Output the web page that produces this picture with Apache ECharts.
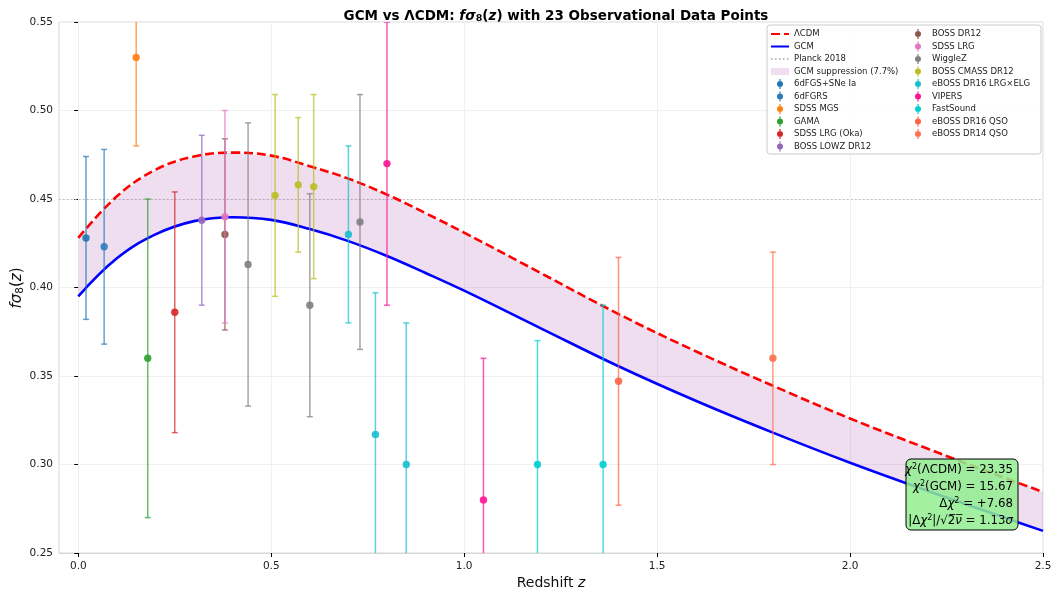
<!DOCTYPE html>
<html><head><meta charset="utf-8">
<script src="https://cdn.jsdelivr.net/npm/echarts@6/dist/echarts.min.js"></script>
<style>html,body{margin:0;padding:0;background:#fff}#c{width:1055px;height:592px}</style>
</head><body><div id="c"></div>
<script>
// ---------- data ----------
const xTicks = [0, 0.5, 1.0, 1.5, 2.0, 2.5];
const yTicks = [0.25, 0.30, 0.35, 0.40, 0.45, 0.50, 0.55];
const curveZ = [0, 0.1, 0.2, 0.3, 0.4, 0.5, 0.6, 0.7, 0.8, 0.9, 1.0, 1.2, 1.4, 1.6, 1.8, 2.0, 2.2, 2.4, 2.5];
const lcdm   = [0.428, 0.4515, 0.4665, 0.474, 0.4762, 0.4745, 0.4685, 0.4615, 0.4525, 0.442, 0.431, 0.408, 0.385, 0.364, 0.3445, 0.326, 0.309, 0.2925, 0.2845];
const gcm    = [0.395, 0.4165, 0.430, 0.4375, 0.4397, 0.4382, 0.433, 0.4262, 0.4178, 0.4082, 0.3982, 0.3768, 0.3555, 0.336, 0.318, 0.301, 0.2852, 0.270, 0.2625];
const planck = 0.45;
const surveys = ['6dFGS+SNe Ia', '6dFGRS', 'SDSS MGS', 'GAMA', 'SDSS LRG (Oka)', 'BOSS LOWZ DR12',
  'BOSS DR12', 'SDSS LRG', 'WiggleZ', 'BOSS CMASS DR12', 'eBOSS DR16 LRG×ELG', 'VIPERS', 'FastSound',
  'eBOSS DR16 QSO', 'eBOSS DR14 QSO'];
const surveyColors = ['#1f77b4', '#2b7bba', '#ff7f0e', '#2ca02c', '#d62728', '#9467bd', '#8c564b', '#e377c2',
  '#7f7f7f', '#bcbd22', '#17becf', '#ff1493', '#00ced1', '#ff6347', '#ff7050'];
const pointZ   = [0.02, 0.067, 0.15, 0.18, 0.25, 0.32, 0.38, 0.38, 0.44, 0.51, 0.57, 0.60, 0.61, 0.70, 0.73, 0.77, 0.80, 0.85, 1.05, 1.19, 1.36, 1.40, 1.80];
const pointF   = [0.428, 0.423, 0.530, 0.360, 0.386, 0.438, 0.430, 0.440, 0.413, 0.452, 0.458, 0.390, 0.457, 0.430, 0.437, 0.317, 0.470, 0.300, 0.280, 0.300, 0.300, 0.347, 0.360];
const pointErr = [0.046, 0.055, 0.050, 0.090, 0.068, 0.048, 0.054, 0.060, 0.080, 0.057, 0.038, 0.063, 0.052, 0.050, 0.072, 0.080, 0.080, 0.080, 0.080, 0.070, 0.090, 0.070, 0.060];
const pointSurvey = [0, 1, 2, 3, 4, 5, 6, 7, 8, 9, 9, 8, 9, 10, 8, 10, 11, 10, 11, 12, 12, 13, 14];
const statLines = ['{i|χ}{s|2}(ΛCDM) = 23.35', '{i|χ}{s|2}(GCM) = 15.67', 'Δ{i|χ}{s|2} = +7.68', '|Δ{i|χ}{s|2}|/√2̅{i|ν̅} = 1.13{i|σ}'];

// ---------- styles ----------
const FONT = 'DejaVu Sans';
const bandColor = 'rgba(128,0,128,0.13)';
const errIcon = 'path://M2.4,0h1.2v2.2h-1.2z M2.4,7.8h1.2v2.2h-1.2z M0,5a3,3 0 1,0 6,0a3,3 0 1,0 -6,0z';

const chart = echarts.init(document.getElementById('c'), null, {renderer: 'canvas'});

const errSeries = surveys.map((name, si) => ({
  type: 'custom', name, clip: true, z: 5,
  itemStyle: {color: surveyColors[si]},
  data: pointZ.map((z, i) => [z, pointF[i], pointErr[i], pointSurvey[i]]).filter(d => d[3] === si),
  encode: {x: 0, y: 1},
  renderItem: (params, api) => {
    const z = api.value(0), f = api.value(1), e = api.value(2);
    const p = api.coord([z, f]), hi = api.coord([z, f + e]), lo = api.coord([z, f - e]);
    const col = surveyColors[si];
    const ls = {stroke: col, lineWidth: 1.5, opacity: 0.7};
    return {type: 'group', children: [
      {type: 'line', shape: {x1: p[0], y1: hi[1], x2: p[0], y2: lo[1]}, style: ls},
      {type: 'line', shape: {x1: p[0] - 3, y1: hi[1], x2: p[0] + 3, y2: hi[1]}, style: ls},
      {type: 'line', shape: {x1: p[0] - 3, y1: lo[1], x2: p[0] + 3, y2: lo[1]}, style: ls},
      {type: 'circle', shape: {cx: p[0], cy: p[1], r: 3.7}, style: {fill: col, opacity: 0.9}}
    ]};
  }
}));

const legendText = {fontFamily: FONT, fontSize: 8.5, color: '#222', lineHeight: 10};
const legend1Names = ['ΛCDM', 'GCM', 'Planck 2018', 'GCM suppression (7.7%)'].concat(surveys.slice(0, 6));
const legend2Names = surveys.slice(6);
function legendData(names) {
  return names.map(n => {
    if (n === 'GCM suppression (7.7%)') return {name: n, icon: 'path://M0,0h18v7h-18z'};
    if (surveys.indexOf(n) >= 0) return {name: n, icon: errIcon};
    return {name: n, itemStyle: {opacity: 0, borderWidth: 0}};
  });
}

const option = {
  animation: false,
  backgroundColor: '#fff',
  title: {
    left: 551, top: 3, textAlign: 'center',
    text: '{b|GCM vs ΛCDM: }{i|fσ}{s|8}{n|(}{i|z}{n|)}{b| with 23 Observational Data Points}',
    textStyle: {
      rich: {
        b: {fontFamily: FONT, fontSize: 13.5, fontWeight: 'bold', color: '#000'},
        n: {fontFamily: FONT, fontSize: 13.5, color: '#000'},
        i: {fontFamily: FONT, fontSize: 13.5, fontStyle: 'italic', color: '#000'},
        s: {fontFamily: FONT, fontSize: 9.5, color: '#000', padding: [6, 0, 0, 0]}
      }
    }
  },
  grid: {left: 59, top: 22, width: 984, height: 531, outerBoundsMode: 'none', containLabel: false,
    show: true, borderColor: '#d6d6d6', borderWidth: 1, backgroundColor: 'transparent'},
  legend: [
    {data: legendData(legend1Names), orient: 'vertical', left: 770, top: 29, itemWidth: 18, itemHeight: 10,
      itemGap: 2.5, padding: 0, textStyle: legendText, z: 20, selectedMode: false},
    {data: legendData(legend2Names), orient: 'vertical', left: 915, top: 29, itemWidth: 18, itemHeight: 10,
      itemGap: 2.5, padding: 0, textStyle: legendText, z: 20, selectedMode: false}
  ],
  xAxis: {
    type: 'value', min: -0.05, max: 2.5,
    name: '{n|Redshift }{i|z}', nameLocation: 'middle', nameGap: 23, nameMoveOverlap: false,
    nameTextStyle: {rich: {n: {fontFamily: FONT, fontSize: 14, color: '#111'}, i: {fontFamily: FONT, fontSize: 14, fontStyle: 'italic', color: '#111'}}},
    axisLine: {show: true, lineStyle: {color: '#d6d6d6'}},
    axisTick: {show: true, customValues: xTicks, length: 4, lineStyle: {color: '#000'}},
    axisLabel: {customValues: xTicks, formatter: v => v.toFixed(1), fontFamily: FONT, fontSize: 10.5, color: '#222', margin: 8},
    splitLine: {show: false}
  },
  yAxis: {
    type: 'value', min: yTicks[0], max: yTicks[yTicks.length - 1], interval: 0.05,
    axisLine: {show: true, lineStyle: {color: '#d6d6d6'}},
    axisTick: {show: true, length: 4, lineStyle: {color: '#000'}},
    axisLabel: {formatter: v => v.toFixed(2), fontFamily: FONT, fontSize: 10.5, color: '#222', margin: 6},
    splitLine: {show: true, lineStyle: {color: '#f0f0f0', width: 1}}
  },
  series: [
    {
      type: 'line', name: 'Planck 2018', data: [], z: 1, symbol: 'none',
      itemStyle: {color: '#bbbbbb'},
      lineStyle: {color: '#bbbbbb', width: 1.2, type: [1.5, 2.5]},
      markLine: {
        silent: true, symbol: ['none', 'none'], label: {show: false}, animation: false, z: 1,
        data: xTicks.map(v => ({xAxis: v, lineStyle: {color: '#f0f0f0', width: 1, type: 'solid'}}))
          .concat([{yAxis: planck, lineStyle: {color: '#bbbbbb', width: 1.2, type: [1.5, 2.5]}}])
      }
    },
    {
      type: 'custom', name: 'GCM suppression (7.7%)', z: 2, clip: true,
      itemStyle: {color: bandColor},
      data: curveZ.map((z, i) => [z, gcm[i], lcdm[i]]),
      encode: {x: 0, y: [1, 2]},
      renderItem: (params, api) => {
        if (params.dataIndex !== 0) return null;
        const pts = [];
        curveZ.forEach((z, i) => pts.push(api.coord([z, lcdm[i]])));
        for (let i = curveZ.length - 1; i >= 0; i--) pts.push(api.coord([curveZ[i], gcm[i]]));
        return {type: 'polygon', shape: {points: pts}, style: {fill: bandColor}};
      }
    },
    {
      type: 'line', name: 'ΛCDM', z: 4, smooth: 0.4, showSymbol: false, symbol: 'none',
      data: curveZ.map((z, i) => [z, lcdm[i]]),
      lineStyle: {color: '#ff0000', width: 2.6, type: [9, 4]}, itemStyle: {color: '#ff0000'}
    },
    {
      type: 'line', name: 'GCM', z: 4, smooth: 0.4, showSymbol: false, symbol: 'none',
      data: curveZ.map((z, i) => [z, gcm[i]]),
      lineStyle: {color: '#0000ff', width: 2.6}, itemStyle: {color: '#0000ff'}
    }
  ].concat(errSeries),
  graphic: [
    {type: 'text', z: 10, x: 17, y: 288, rotation: Math.PI / 2,
      style: {text: '{i|fσ}{s|8}{n|(}{i|z}{n|)}', textAlign: 'center', textVerticalAlign: 'middle',
        rich: {
          n: {fontFamily: FONT, fontSize: 15, fill: '#111'},
          i: {fontFamily: FONT, fontSize: 15, fontStyle: 'italic', fill: '#111'},
          s: {fontFamily: FONT, fontSize: 10.5, fill: '#111', padding: [6, 0, 0, 0]}
        }}},
    {type: 'rect', z: 15, shape: {x: 767, y: 25, width: 274, height: 129, r: 3},
      style: {fill: 'rgba(255,255,255,0.85)', stroke: '#cccccc', lineWidth: 1}},
    {type: 'rect', z: 30, shape: {x: 906, y: 459, width: 112, height: 71, r: 5},
      style: {fill: 'rgba(144,238,144,0.85)', stroke: '#000', lineWidth: 1}},
    {type: 'text', z: 31, x: 1013, y: 461,
      style: {text: statLines.join('\n'), textAlign: 'right', textVerticalAlign: 'top',
        fontFamily: FONT, fontSize: 11.8, lineHeight: 17, fill: '#000',
        rich: {
          i: {fontFamily: FONT, fontSize: 11.8, fontStyle: 'italic', fill: '#000'},
          s: {fontFamily: FONT, fontSize: 8, fill: '#000', padding: [0, 0, 6, 0]}
        }}}
  ]
};
chart.setOption(option);
</script>
</body></html>
